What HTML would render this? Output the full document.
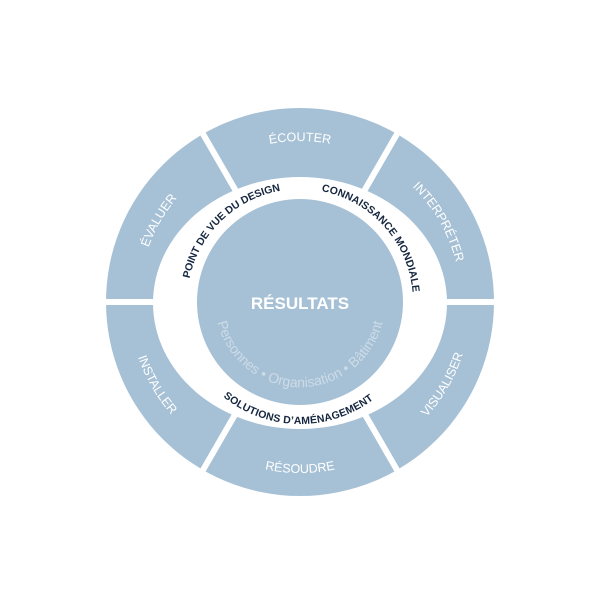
<!DOCTYPE html>
<html><head><meta charset="utf-8"><style>
html,body{margin:0;padding:0;background:#fff;}
svg{display:block;}
.o{font-family:"Liberation Sans",sans-serif;font-size:12.5px;fill:#fff;}
.i{font-family:"Liberation Sans",sans-serif;font-size:10.5px;font-weight:bold;fill:#15263f;}
</style></head><body>
<svg width="600" height="600" viewBox="0 0 600 600" xmlns="http://www.w3.org/2000/svg">
<defs>
<path id="p90" d="M 160.6,221.5 A 161 161 0 0 1 439.4,221.5"/>
<path id="p30" d="M 300,141 A 161 161 0 0 1 439.4,382.5"/>
<path id="p150" d="M 160.6,382.5 A 161 161 0 0 1 300,141"/>
<path id="pm30" d="M 300,473 A 171 171 0 0 0 448.1,216.5"/>
<path id="pm90" d="M 151.9,387.5 A 171 171 0 0 0 448.1,387.5"/>
<path id="pm150" d="M 151.9,216.5 A 171 171 0 0 0 300,473"/>
<path id="pin134" d="M 190.4,329.3 A 113 113 0 0 1 331.2,193.4"/>
<path id="pin42" d="M 276.5,191.5 A 113 113 0 0 1 407.5,336.9"/>
<path id="pinb" d="M 193.3,361.2 A 122 122 0 0 0 404.6,364.8"/>
<path id="pres" d="M 215.3,309.4 A 85 85 0 0 0 384.7,309.4"/>
</defs>
<circle cx="300" cy="302" r="194" fill="#a6c1d6"/>
<g stroke="#fff" stroke-width="6">
<line x1="300" y1="302" x2="500" y2="302"/>
<line x1="300" y1="302" x2="100" y2="302"/>
<line x1="300" y1="302" x2="400" y2="128.8"/>
<line x1="300" y1="302" x2="200" y2="128.8"/>
<line x1="300" y1="302" x2="400" y2="475.2"/>
<line x1="300" y1="302" x2="200" y2="475.2"/>
</g>
<ellipse cx="300" cy="303" rx="147" ry="126" fill="#fff"/>
<circle cx="300" cy="302" r="103" fill="#a6c1d6"/>

<text class="o"><textPath href="#p90" startOffset="50%" text-anchor="middle">ÉCOUTER</textPath></text>
<text class="o"><textPath href="#p30" startOffset="50%" text-anchor="middle">INTERPRÉTER</textPath></text>
<text class="o"><textPath href="#pm30" startOffset="50%" text-anchor="middle">VISUALISER</textPath></text>
<text class="o"><textPath href="#pm90" startOffset="50%" text-anchor="middle">RÉSOUDRE</textPath></text>
<text class="o"><textPath href="#pm150" startOffset="50%" text-anchor="middle">INSTALLER</textPath></text>
<text class="o"><textPath href="#p150" startOffset="50%" text-anchor="middle">ÉVALUER</textPath></text>

<text class="i"><textPath href="#pin134" startOffset="50%" text-anchor="middle" textLength="134">POINT DE VUE DU DESIGN</textPath></text>
<text class="i"><textPath href="#pin42" startOffset="50%" text-anchor="middle" textLength="146">CONNAISSANCE MONDIALE</textPath></text>
<text class="i"><textPath href="#pinb" startOffset="50%" text-anchor="middle" textLength="162">SOLUTIONS D’AMÉNAGEMENT</textPath></text>

<text x="300" y="309" text-anchor="middle" font-family="Liberation Sans,sans-serif" font-size="17" font-weight="bold" fill="#fff">RÉSULTATS</text>
<text font-family="Liberation Sans,sans-serif" font-size="14" fill="#cddbe7"><textPath href="#pres" startOffset="50%" text-anchor="middle" textLength="226">Personnes • Organisation • Bâtiment</textPath></text>
</svg>
</body></html>
